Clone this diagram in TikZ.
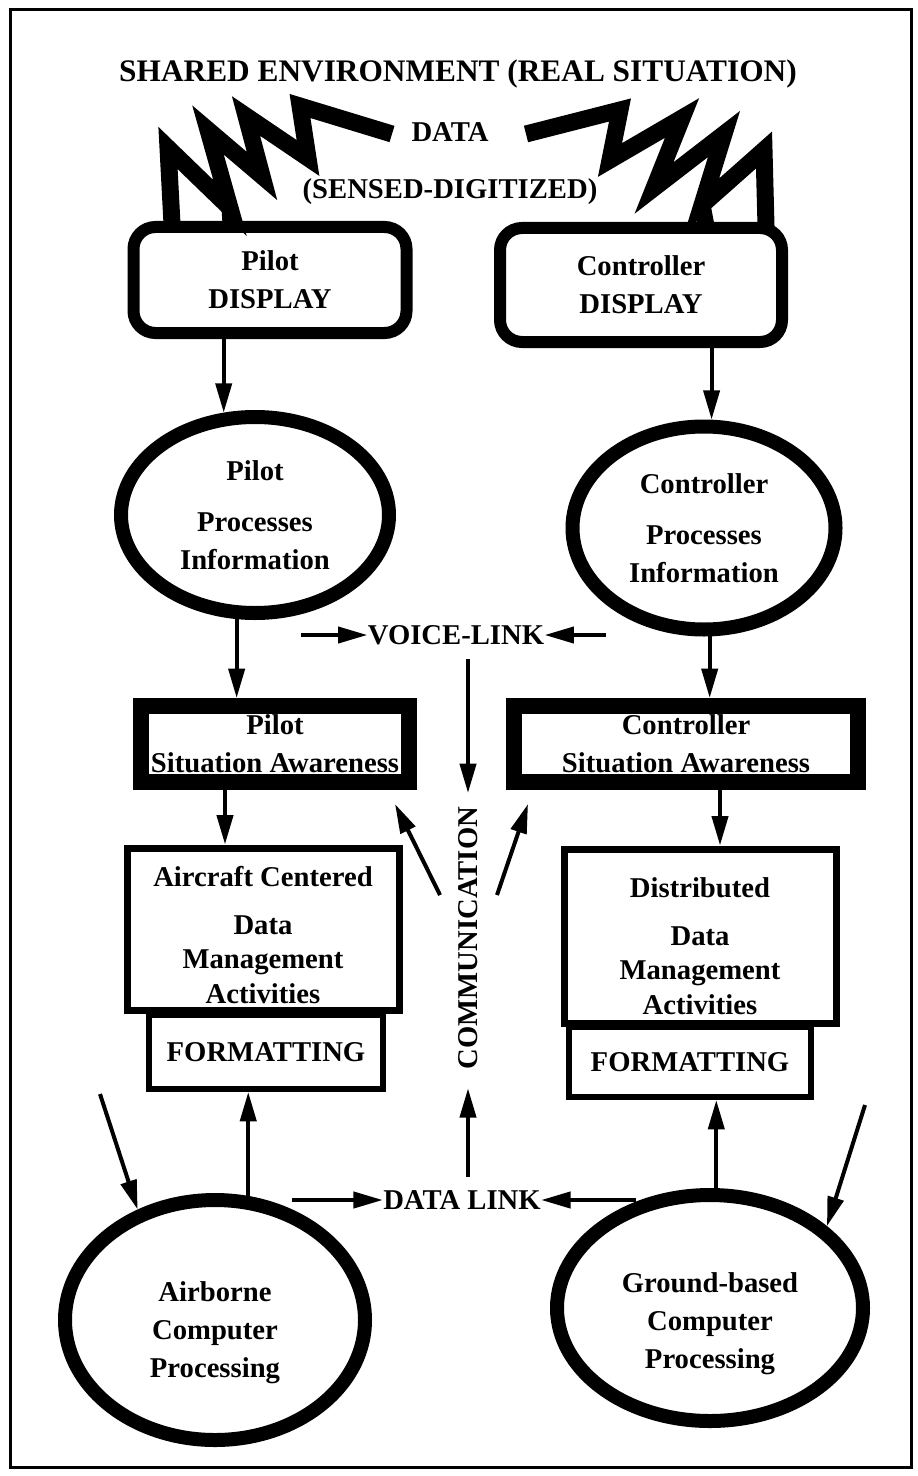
\documentclass[tikz,border=0pt]{standalone}
\usepackage{fontspec}
\setmainfont{Liberation Serif}
\usetikzlibrary{arrows.meta,shapes.geometric,calc}
\newlength\px
\setlength\px{0.75pt}

\tikzset{every picture/.style={line width=0.75pt}}
\tikzset{
  txt/.style={font=\bfseries\fontsize{21.5}{28.5}\selectfont, align=center, inner sep=0pt},
  dispbox/.style={txt, draw, line width=12\px, rounded corners=22\px},
  sabox/.style={txt, draw, line width=16\px},
  actbox/.style={txt, font=\bfseries\fontsize{21.5}{26}\selectfont, draw, line width=7\px},
  fmtbox/.style={txt, draw, line width=6\px, fill=white},
  procell/.style={txt, draw, ellipse, line width=14\px},
  arr/.style={line width=3pt, -{Triangle[length=22pt,width=12pt]}},
  bolt/.style={line width=17\px, miter limit=6},
}

\begin{document}
\begin{tikzpicture}[x=0.75pt,y=0.75pt,yscale=-1,xscale=1]
\useasboundingbox (0,0) rectangle (917,1476);

%Frame
\draw [line width=3\px] (10,10) rectangle (911,1467);

% Text Node
\node [txt, font=\bfseries\fontsize{23.5}{27}\selectfont] (title) at (458,74) {SHARED ENVIRONMENT (REAL SITUATION)};
\node [txt] (data) at (450,132) {DATA};
\node [txt] (sensed) at (450,192) {(SENSED-DIGITIZED)};

%Shape: Lightning left
\draw [bolt] (172,224) -- (168,148) -- (230,208) -- (208,130) -- (262,176) -- (246,116) -- (308,158) -- (300,106) -- (392,134) ;
\draw [bolt] (230,208) -- (231,224) ;
%Shape: Lightning right
\draw [bolt] (526,134) -- (620,110) -- (610,160) -- (682,118) -- (654,188) -- (724,134) -- (702,205) -- (764,150) -- (766,226) ;
\draw [bolt] (702,205) -- (706,226) ;

% Displays
\node [dispbox, minimum width=273\px, minimum height=106\px] (pdisp) at (270,280) {Pilot\\DISPLAY};
\node [dispbox, minimum width=282\px, minimum height=114\px] (cdisp) at (641,285) {Controller\\DISPLAY};

% Processing ellipses
\node [procell, minimum width=268\px, minimum height=196\px] (pproc) at (255,515) {Pilot\\[10pt]Processes\\Information};
\node [procell, minimum width=263\px, minimum height=203\px] (cproc) at (704,528) {Controller\\[10pt]Processes\\Information};

\node [txt] (vlink) at (456,635) {VOICE-LINK};

% Situation awareness
\node [sabox, minimum width=268\px, minimum height=76\px] (psa) at (275,744) {Pilot\\Situation Awareness};
\node [sabox, minimum width=344\px, minimum height=76\px] (csa) at (686,744) {Controller\\Situation Awareness};

% Data management
\node [actbox, minimum width=272\px, minimum height=162\px] (aircraft) at (263,929) {\rule{0pt}{24pt}Aircraft Centered\\[10pt]Data\\Management\\Activities};
\node [fmtbox, minimum width=234\px, minimum height=74\px] (fmtl) at (266,1052) {FORMATTING};
\node [actbox, minimum width=272\px, minimum height=174\px] (distrib) at (700,936) {\rule{0pt}{30pt}Distributed\\[10pt]Data\\Management\\Activities};
\node [fmtbox, minimum width=242\px, minimum height=70\px] (fmtr) at (690,1062) {FORMATTING};

\node [txt, rotate=90] (comm) at (468,938) {COMMUNICATION};
\node [txt] (dlink) at (462,1200) {DATA LINK};

% Computer processing
\node [procell, minimum width=300\px, minimum height=240\px] (abcp) at (215,1320) {\rule{0pt}{34pt}Airborne\\Computer\\Processing};
\node [procell, minimum width=306\px, minimum height=226\px] (gbcp) at (710,1308) {\rule{0pt}{38pt}Ground-based\\Computer\\Processing};

% free ends
\coordinate (psa-out) at ($(psa.south)+(-50,0)$);
\coordinate (csa-out) at ($(csa.south)+(34,0)$);
\coordinate (cl) at (440,895);
\coordinate (cr) at (497,895);
\coordinate (cl-tip) at ($(psa.south east)+(-22,14)$);
\coordinate (cr-tip) at ($(csa.south west)+(22,14)$);
\coordinate (fl) at (100,1094);
\coordinate (fr) at (865,1105);

% Arrows
\draw [arr] (pproc.107 |- pdisp.south) -- (pproc.107);
\draw [arr] (cproc.86 |- cdisp.south) -- (cproc.86);
\draw [arr] (pproc.-65 |- vlink) -- (vlink.west);
\draw [arr] (cproc.-142 |- vlink) -- (vlink.east);
\draw [arr] (pproc.-100) -- (pproc.-100 |- psa.north);
\draw [arr] (cproc.-87) -- (cproc.-87 |- csa.north);
\draw [arr, shorten <=10pt, shorten >=10pt] (comm.east |- vlink.south) -- (comm.east);
\draw [arr, shorten <=10pt, shorten >=14pt] (comm.west |- dlink.north) -- (comm.west);
\draw [arr] (cl) -- (cl-tip);
\draw [arr] (cr) -- (cr-tip);
\draw [arr] (psa-out) -- (psa-out |- aircraft.north);
\draw [arr] (csa-out) -- (csa-out |- distrib.north);
\draw [arr] (fl) -- (abcp.125);
\draw [arr] (abcp.75) -- (abcp.75 |- fmtl.south);
\draw [arr] (abcp.55 |- dlink) -- (dlink.west);
\draw [arr] (gbcp.125 |- dlink) -- (dlink.east);
\draw [arr] (gbcp.87) -- (gbcp.87 |- fmtr.south);
\draw [arr] (fr) -- (gbcp.35);

\end{tikzpicture}
\end{document}
